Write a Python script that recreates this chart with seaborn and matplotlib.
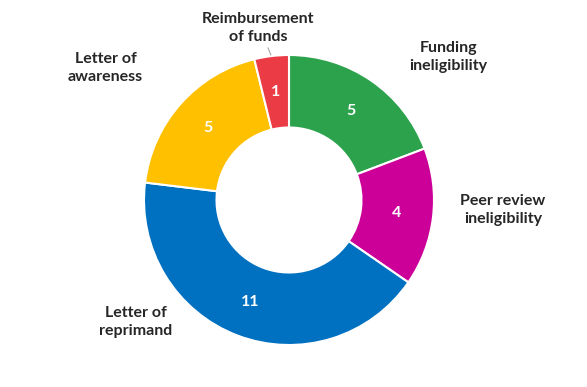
import matplotlib
matplotlib.use("Agg")
import matplotlib.pyplot as plt
import seaborn as sns

categories = ["Funding\nineligibility", "Peer review\nineligibility", "Letter of\nreprimand",
              "Letter of\nawareness", "Reimbursement\nof funds"]
values = [5, 4, 11, 5, 1]
colors = ["#2CA24C", "#CC0099", "#0070C0", "#FFC000", "#EB3B45"]

sns.set_theme(style="white")
plt.rcParams['font.family'] = ['Lato', 'DejaVu Sans']

fig = plt.figure(figsize=(5.87, 3.87), dpi=100)
ax = fig.add_axes([0, 0, 1, 1])
ax.axis("off")

wedges, texts, autotexts = ax.pie(
    values, colors=colors, startangle=90, counterclock=False,
    radius=1.0, wedgeprops=dict(width=0.5, edgecolor="white", linewidth=1.5),
    autopct=lambda p: f"{round(p * sum(values) / 100):d}", pctdistance=0.75,
    textprops=dict(color="white", fontsize=11.5, fontweight="bold"))

label_pos = [(1.097, 0.986), (1.476, -0.069), (-1.055, -0.841), (-1.266, 0.910), (-0.214, 1.186)]
for lab, (x, y) in zip(categories, label_pos):
    ax.text(x, y, lab, ha="center", va="center", fontsize=11.5, fontweight="bold",
            color="#262626", linespacing=1.3)

# leader line for the small slice
ax.plot([-0.145, -0.125], [1.05, 1.0], color="#A6A6A6", lw=0.8)

ax.set_xlim(-289 / 145, (587 - 289) / 145)
ax.set_ylim(-187 / 145, 200 / 145)
ax.set_aspect("auto")

fig.savefig("out.png", dpi=100, facecolor="white")
